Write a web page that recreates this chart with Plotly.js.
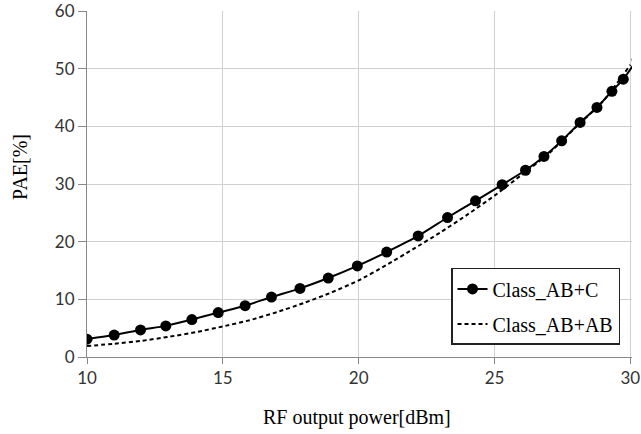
<!DOCTYPE html>
<html>
<head>
<meta charset="utf-8">
<script src="https://cdn.plot.ly/plotly-3.0.1.min.js"></script>
<style>html,body{margin:0;padding:0;background:#fff;}#chart{width:641px;height:434px;}</style>
</head>
<body>
<div id="chart"></div>
<script>
// Class_AB+C (solid line with markers)
const abcX = [10.0, 11.0, 11.97, 12.9, 13.86, 14.83, 15.82, 16.79, 17.84, 18.88, 19.95, 21.03, 22.19, 23.27, 24.3, 25.28, 26.14, 26.82, 27.47, 28.15, 28.77, 29.32, 29.74, 30.25];
const abcY = [3.1, 3.8, 4.7, 5.4, 6.5, 7.7, 8.9, 10.4, 11.9, 13.7, 15.8, 18.2, 21.0, 24.2, 27.1, 29.9, 32.4, 34.8, 37.5, 40.7, 43.3, 46.1, 48.2, 51.6];
// Class_AB+AB (dashed line)
const ababX = [10, 11, 12, 13, 14, 15, 16, 17, 18, 19, 20, 21, 22, 23, 24, 25, 26, 27, 28, 29, 30];
const ababY = [1.9, 2.3, 2.8, 3.5, 4.3, 5.3, 6.4, 7.8, 9.4, 11.2, 13.3, 15.9, 18.7, 21.6, 24.7, 28.0, 31.6, 35.3, 39.9, 44.4, 50.7];

const xTicks = [10, 15, 20, 25, 30];
const yTicks = [0, 10, 20, 30, 40, 50, 60];
const xTitle = 'RF output power[dBm]';
const yTitle = 'PAE[%]';

const serif = 'Liberation Serif, Times New Roman, serif';

const traces = [
  {
    x: abcX, y: abcY, type: 'scatter', mode: 'lines+markers', name: 'Class_AB+C',
    legendgroup: 'a',
    line: {color: '#000', width: 2, shape: 'spline', smoothing: 0.6},
    marker: {color: '#000', size: 11, symbol: 'circle'},
    cliponaxis: true
  },
  {
    x: ababX, y: ababY, type: 'scatter', mode: 'lines', name: 'Class_AB+AB',
    legendgroup: 'b',
    line: {color: '#000', width: 2, dash: '4px,3px', shape: 'spline', smoothing: 0.6},
    cliponaxis: true
  }
];

const layout = {
  width: 641, height: 434,
  margin: {l: 87, r: 9, t: 11, b: 77},
  paper_bgcolor: '#fff', plot_bgcolor: '#fff',
  showlegend: true,
  legend: {
    x: 0.978, xanchor: 'right', y: 0.035, yanchor: 'bottom',
    bgcolor: '#fff', bordercolor: '#222', borderwidth: 1.5,
    font: {family: serif, size: 20, color: '#000'},
    tracegroupgap: 6
  },
  xaxis: {
    range: [10, 30.06], tickvals: xTicks, ticktext: xTicks.map(String),
    showgrid: true, gridcolor: '#d0d0d0', gridwidth: 1,
    showline: true, linecolor: '#888', linewidth: 1,
    ticks: 'outside', ticklen: 6, tickcolor: '#888',
    tickfont: {family: 'Lato, sans-serif', size: 17, color: '#333'},
    zeroline: false
  },
  yaxis: {
    range: [0, 60.03], tickvals: yTicks, ticktext: yTicks.map(String),
    showgrid: true, gridcolor: '#d0d0d0', gridwidth: 1,
    showline: true, linecolor: '#888', linewidth: 1,
    ticks: 'outside', ticklen: 8, tickcolor: '#888',
    tickfont: {family: 'Lato, sans-serif', size: 17, color: '#333'},
    zeroline: false
  },
  annotations: [
    {text: xTitle, xref: 'paper', yref: 'paper', x: 0.495, y: -0.175, xanchor: 'center', yanchor: 'middle',
     showarrow: false, font: {family: serif, size: 20, color: '#000'}},
    {text: yTitle, xref: 'paper', yref: 'paper', x: -0.122, y: 0.548, xanchor: 'center', yanchor: 'middle',
     textangle: -90, showarrow: false, font: {family: serif, size: 20, color: '#000'}}
  ]
};

Plotly.newPlot('chart', traces, layout, {displayModeBar: false, staticPlot: true});
</script>
</body>
</html>
